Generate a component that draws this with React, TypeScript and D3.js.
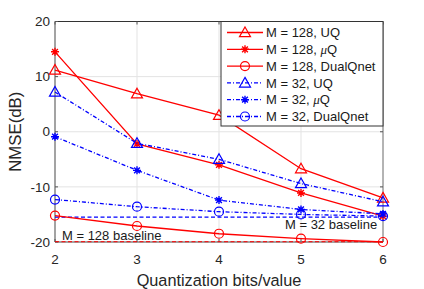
import { useEffect, useRef } from "react";
import * as d3 from "d3";

const bits = [2, 3, 4, 5, 6];
const m128UQ = [11.2, 6.9, 3.0, -6.7, -12.0];
const m128MuQ = [14.5, -2.2, -6.0, -11.1, -15.3];
const m128Dual = [-15.2, -17.1, -18.5, -19.4, -20.0];
const m32UQ = [7.2, -2.1, -5.0, -9.4, -12.7];
const m32MuQ = [-0.9, -7.0, -12.4, -14.1, -14.9];
const m32Dual = [-12.3, -13.6, -14.5, -15.0, -15.3];
const baseline128 = -19.95;
const baseline32 = -15.5;
const yTicks = [-20, -10, 0, 10, 20];

const series = [
  { name: "M = 128, UQ", values: m128UQ, color: "#ff0000", dash: "", marker: "tri" },
  { name: "M = 128, μQ", values: m128MuQ, color: "#ff0000", dash: "", marker: "star" },
  { name: "M = 128, DualQnet", values: m128Dual, color: "#ff0000", dash: "", marker: "circle" },
  { name: "M = 32, UQ", values: m32UQ, color: "#0000ff", dash: "4,2,1,2", marker: "tri" },
  { name: "M = 32, μQ", values: m32MuQ, color: "#0000ff", dash: "4,2,1,2", marker: "star" },
  { name: "M = 32, DualQnet", values: m32Dual, color: "#0000ff", dash: "4,2,1,2", marker: "circle" },
];

function drawMarker(g: any, kind: string, x: number, y: number, color: string) {
  if (kind === "tri") {
    const s = 5.5;
    g.append("path")
      .attr("d", `M${x},${y - s}L${x + s},${y + s * 0.75}L${x - s},${y + s * 0.75}Z`)
      .attr("fill", "none").attr("stroke", color).attr("stroke-width", 1.2);
  } else if (kind === "circle") {
    g.append("circle").attr("cx", x).attr("cy", y).attr("r", 4.5)
      .attr("fill", "none").attr("stroke", color).attr("stroke-width", 1.2);
  } else {
    const r = 4, d = r * 0.72;
    g.append("path")
      .attr("d", `M${x - r},${y}L${x + r},${y}M${x},${y - r}L${x},${y + r}M${x - d},${y - d}L${x + d},${y + d}M${x - d},${y + d}L${x + d},${y - d}`)
      .attr("stroke", color).attr("stroke-width", 1.4);
  }
}

export default function App() {
  const ref = useRef<SVGSVGElement>(null);

  useEffect(() => {
    const svg = d3.select(ref.current);
    svg.selectAll("*").remove();

    const margin = { top: 21.5, right: 41, bottom: 47, left: 55 };
    const width = 424, height = 289;
    const font = "'Liberation Sans', Arial, sans-serif";

    const x = d3.scaleLinear().domain([2, 6]).range([margin.left, width - margin.right]);
    const y = d3.scaleLinear().domain([-20, 20]).range([height - margin.bottom, margin.top]);

    svg.append("rect")
      .attr("x", margin.left).attr("y", margin.top)
      .attr("width", x(6) - x(2)).attr("height", y(-20) - y(20))
      .attr("fill", "#fff");

    // grid
    const grid = svg.append("g").attr("stroke", "#e3e3e3").attr("stroke-width", 1);
    bits.forEach(b => grid.append("line").attr("x1", x(b)).attr("x2", x(b)).attr("y1", y(-20)).attr("y2", y(20)));
    yTicks.forEach(t => grid.append("line").attr("x1", x(2)).attr("x2", x(6)).attr("y1", y(t)).attr("y2", y(t)));

    // box
    svg.append("line").attr("x1", x(2)).attr("x2", x(6)).attr("y1", y(20)).attr("y2", y(20)).attr("stroke", "#333");
    svg.append("line").attr("x1", x(6)).attr("x2", x(6)).attr("y1", y(20)).attr("y2", y(-20)).attr("stroke", "#777");
    svg.append("line").attr("x1", x(2)).attr("x2", x(6)).attr("y1", y(-20)).attr("y2", y(-20)).attr("stroke", "#888").attr("stroke-width", 1.5);
    svg.append("line").attr("x1", x(2)).attr("x2", x(2)).attr("y1", y(20)).attr("y2", y(-20)).attr("stroke", "#888").attr("stroke-width", 1.5);

    // ticks
    const ax = svg.append("g").attr("stroke", "#555");
    yTicks.forEach(t => {
      ax.append("line").attr("x1", x(2)).attr("x2", x(2) + 3).attr("y1", y(t)).attr("y2", y(t));
      ax.append("line").attr("x1", x(6)).attr("x2", x(6) - 3).attr("y1", y(t)).attr("y2", y(t));
    });
    bits.forEach(b => {
      ax.append("line").attr("x1", x(b)).attr("x2", x(b)).attr("y1", y(-20)).attr("y2", y(-20) - 3);
      ax.append("line").attr("x1", x(b)).attr("x2", x(b)).attr("y1", y(20)).attr("y2", y(20) + 3);
    });

    svg.append("g").selectAll("text").data(yTicks).join("text")
      .attr("x", x(2) - 5).attr("y", d => y(d)).attr("dy", "0.35em")
      .attr("text-anchor", "end").attr("font-size", 13.5).attr("font-family", font).attr("fill", "#262626")
      .text(d => String(d));
    svg.append("g").selectAll("text").data(bits).join("text")
      .attr("x", d => x(d)).attr("y", y(-20) + 21.5)
      .attr("text-anchor", "middle").attr("font-size", 13.5).attr("font-family", font).attr("fill", "#262626")
      .text(d => String(d));

    svg.append("text").attr("x", x(4)).attr("y", 286)
      .attr("text-anchor", "middle").attr("font-size", 16.3).attr("font-family", font).attr("fill", "#262626")
      .text("Quantization bits/value");
    svg.append("text").attr("transform", `translate(21,${y(0)}) rotate(-90)`)
      .attr("text-anchor", "middle").attr("font-size", 16.8).attr("font-family", font).attr("fill", "#262626")
      .text("NMSE(dB)");

    // baselines
    svg.append("line").attr("x1", x(2)).attr("x2", x(6)).attr("y1", y(baseline32)).attr("y2", y(baseline32))
      .attr("stroke", "#0000ff").attr("stroke-width", 1.2).attr("stroke-dasharray", "4,2.5");
    svg.append("line").attr("x1", x(2)).attr("x2", x(6)).attr("y1", y(baseline128)).attr("y2", y(baseline128))
      .attr("stroke", "#ff0000").attr("stroke-width", 1.2).attr("stroke-dasharray", "4,2.5").attr("opacity", 0.8);
    svg.append("text").attr("x", 62).attr("y", y(baseline128) - 2)
      .attr("font-size", 13).attr("font-family", font).attr("fill", "#1a1a1a").text("M = 128 baseline");
    svg.append("text").attr("x", 285).attr("y", y(baseline32) + 12)
      .attr("font-size", 13).attr("font-family", font).attr("fill", "#1a1a1a").text("M = 32 baseline");

    const line = d3.line<number>().x((_, i) => x(bits[i])).y(d => y(d));
    const marks = svg.append("g");
    series.forEach(s => {
      marks.append("path").attr("d", line(s.values))
        .attr("fill", "none").attr("stroke", s.color).attr("stroke-width", 1.3)
        .attr("stroke-dasharray", s.dash || null);
      s.values.forEach((v, i) => drawMarker(marks, s.marker, x(bits[i]), y(v), s.color));
    });

    // legend
    const lx = 221, ly = 21.5, lw = x(6) - lx, lh = 104.5;
    const leg = svg.append("g");
    leg.append("rect").attr("x", lx).attr("y", ly).attr("width", lw).attr("height", lh)
      .attr("fill", "#fff").attr("stroke", "#333").attr("stroke-width", 1);
    series.forEach((s, i) => {
      const cy = ly + 11 + i * 16.8;
      leg.append("line").attr("x1", lx + 6).attr("x2", lx + 42).attr("y1", cy).attr("y2", cy)
        .attr("stroke", s.color).attr("stroke-width", 1.3).attr("stroke-dasharray", s.dash || null);
      drawMarker(leg, s.marker, lx + 24, cy, s.color);
      const parts = s.name.split("μ");
      const t = leg.append("text").attr("x", lx + 45).attr("y", cy).attr("dy", "0.36em")
        .attr("font-size", 13).attr("font-family", font).attr("fill", "#1a1a1a");
      t.append("tspan").text(parts[0]);
      if (parts.length > 1) {
        t.append("tspan").attr("font-style", "italic").attr("font-family", "'Liberation Serif', serif").text("μ");
        t.append("tspan").text(parts[1]);
      }
    });
  }, []);

  return (
    <svg ref={ref} width={424} height={289}
      style={{ position: "absolute", left: 0, top: 0, background: "#fff" }} />
  );
}
